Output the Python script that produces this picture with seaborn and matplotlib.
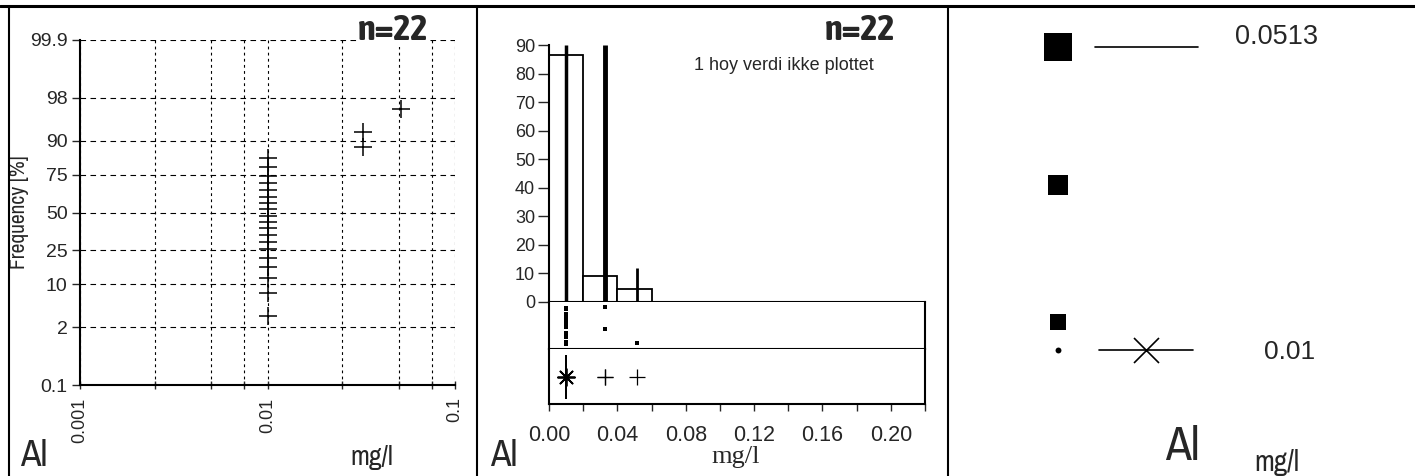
import numpy as np
import seaborn as sns
import matplotlib.pyplot as plt
from matplotlib.lines import Line2D
from statistics import NormalDist

# Al concentrations (mg/l), 22 samples
al_values = [0.01, 0.01, 0.01, 0.01, 0.01, 0.01, 0.01, 0.01, 0.01, 0.01,
             0.01, 0.01, 0.01, 0.01, 0.01, 0.01, 0.01, 0.01, 0.01,
             0.0325, 0.0325, 0.0513]
n_text = 'n=22'
note_text = '1 hoy verdi ikke plottet'

# probability plot axes
prob_ticks = [0.1, 2, 10, 25, 50, 75, 90, 98, 99.9]
prob_labels = ['0.1', '2', '10', '25', '50', '75', '90', '98', '99.9']
log_major = [0.001, 0.01, 0.1]
log_major_labels = ['0.001', '0.01', '0.1']
log_minor = [0.0025, 0.005, 0.0075, 0.025, 0.05, 0.075]

# histogram
hist_bins = [0.0, 0.02, 0.04, 0.06]
spike_x = [0.01, 0.033, 0.0513]
spike_h = [90, 90, 12]
hist_xticks = [0.00, 0.02, 0.04, 0.06, 0.08, 0.10, 0.12, 0.14, 0.16, 0.18, 0.20, 0.22]
hist_xlabels = ['0.00', '', '0.04', '', '0.08', '', '0.12', '', '0.16', '', '0.20', '']
hist_yticks = [0, 10, 20, 30, 40, 50, 60, 70, 80, 90]

# class symbol legend
class_max = '0.0513'
class_min = '0.01'

sns.set_style('white')
plt.rcParams['font.family'] = ['Liberation Sans', 'DejaVu Sans']
NARROW = ['Liberation Sans Narrow', 'Archivo Narrow', 'Asap Condensed', 'Liberation Sans']
NARROW_B = ['Liberation Sans Narrow', 'Asap Condensed', 'Archivo Narrow', 'Liberation Sans']
W, H = 1415, 476


def fig_rect(x0, y0, x1, y1):
    return [x0 / W, 1 - y1 / H, (x1 - x0) / W, (y1 - y0) / H]


nd = NormalDist()
_ppf = np.vectorize(lambda p: nd.inv_cdf(p) if 0 < p < 1 else np.nan, otypes=[float])
_cdf = np.vectorize(nd.cdf, otypes=[float])


def prob_fwd(pct):
    return _ppf(np.clip(np.asarray(pct, float) / 100, 1e-9, 1 - 1e-9))


def prob_inv(z):
    return _cdf(np.asarray(z, float)) * 100


fig = plt.figure(figsize=(W / 100, H / 100), dpi=100)

# ---------------- left: probability plot ----------------
ax = fig.add_axes(fig_rect(80, 40, 455, 385))
vals = np.sort(al_values)
n = len(vals)
pos = (np.arange(1, n + 1) - 0.3) / (n + 0.4) * 100
ax.set_xscale('log')
ax.set_yscale('function', functions=(prob_fwd, prob_inv))
sns.scatterplot(x=vals, y=pos, marker='+', s=150, color='black', linewidth=1.1, ax=ax, zorder=4)
ax.set_xlim(0.001, 0.1)
ax.set_ylim(0.1, 99.9)
ax.set_yticks(prob_ticks)
ax.set_yticklabels(prob_labels, fontsize=14)
ax.set_xticks(log_major)
ax.set_xticklabels(log_major_labels, rotation=90, fontsize=13)
ax.set_xticks(log_minor, minor=True)
ax.xaxis.set_minor_formatter(plt.NullFormatter())
ax.tick_params(axis='y', which='major', direction='out', length=6, width=1, pad=3, left=True)
ax.tick_params(axis='x', which='both', direction='inout', length=6, width=1, pad=6, bottom=True)
ax.grid(True, which='both', axis='x', color='black', linestyle=(0, (2.5, 3)), linewidth=0.8)
ax.grid(True, which='major', axis='y', color='black', linestyle=(0, (5, 4)), linewidth=0.8)
for s in ['top', 'right']:
    ax.spines[s].set_visible(False)
for s in ['left', 'bottom']:
    ax.spines[s].set_color('black')
    ax.spines[s].set_linewidth(1.5)
ax.set_ylabel('Frequency [%]', fontsize=15.5, family=NARROW)
ax.yaxis.set_label_coords(-0.135, 0.5)
ax.set_xlabel('')
fig.text(393 / W, 1 - 40 / H, n_text, ha='center', va='baseline', fontsize=26,
         fontweight='bold', family=NARROW_B,
         bbox=dict(facecolor='white', edgecolor='none', pad=0))
fig.text(20 / W, 1 - 455 / H, 'Al', ha='left', va='center', fontsize=27, family=NARROW)
fig.text(372 / W, 1 - 457 / H, 'mg/l', ha='center', va='center', fontsize=20, family=NARROW)

# ---------------- middle: histogram + strip + box ----------------
hax = fig.add_axes(fig_rect(549, 45, 925, 302))
sns.histplot(x=al_values, bins=hist_bins, stat='percent', color='white', edgecolor='black',
             linewidth=1.3, alpha=1, ax=hax)
hax.vlines(spike_x, 0, spike_h, colors='black', linewidth=[2.5, 3.5, 2.0], zorder=4)
hax.set_xlim(0, 0.22)
hax.set_ylim(0, 90)
hax.set_yticks(hist_yticks)
hax.set_yticklabels([str(t) for t in hist_yticks], fontsize=13)
hax.tick_params(axis='y', direction='out', length=8, width=1, pad=2, left=True)
hax.set_xticks([])
hax.set_xlabel('')
hax.set_ylabel('')
for s in ['top', 'right']:
    hax.spines[s].set_visible(False)
for s in ['left', 'bottom']:
    hax.spines[s].set_color('black')
    hax.spines[s].set_linewidth(1.5)
fig.text(860 / W, 1 - 40 / H, n_text, ha='center', va='baseline', fontsize=26,
         fontweight='bold', family=NARROW_B)
fig.text(784 / W, 1 - 66 / H, note_text, ha='center', va='center', fontsize=13)

sax = fig.add_axes(fig_rect(549, 302, 925, 349))
np.random.seed(7)
sns.stripplot(x=al_values, orient='h', jitter=0.42, color='black', marker='s', size=2.2,
              linewidth=0, ax=sax)
sax.set_xlim(0, 0.22)
sax.set_ylim(0.5, -0.5)
sax.set_xticks([])
sax.set_yticks([])
sax.spines['top'].set_visible(False)
for s in ['left', 'right', 'bottom']:
    sax.spines[s].set_color('black')
    sax.spines[s].set_linewidth(1.5)

bax = fig.add_axes(fig_rect(549, 349, 925, 404))
sns.boxplot(x=al_values, orient='h', width=0.8, color='white', linecolor='black',
            linewidth=1.4, whis=1.5,
            flierprops=dict(marker='+', markersize=11, markeredgecolor='black',
                            markeredgewidth=0.9),
            ax=bax)
bax.scatter([np.median(al_values)], [0], marker=(8, 2, 0), s=150, color='black',
            linewidth=1.3, zorder=5)
bax.set_xlim(0, 0.22)
bax.set_ylim(0.5, -0.5)
bax.set_yticks([])
bax.set_xticks(hist_xticks)
bax.set_xticklabels(hist_xlabels, fontsize=15.5)
bax.tick_params(axis='x', direction='out', length=5, width=1, pad=10, bottom=True)
bax.spines['top'].set_visible(False)
for s in ['left', 'right', 'bottom']:
    bax.spines[s].set_color('black')
    bax.spines[s].set_linewidth(1.5)
fig.text(490 / W, 1 - 455 / H, 'Al', ha='left', va='center', fontsize=27, family=NARROW)
fig.text(736 / W, 1 - 457 / H, 'mg/l', ha='center', va='center', fontsize=19,
         family=['Liberation Serif', 'DejaVu Serif'])

# ---------------- right: class symbol legend ----------------
rax = fig.add_axes(fig_rect(948, 0, W, H))
rax.set_xlim(948, W)
rax.set_ylim(H, 0)
rax.axis('off')
sq_y = [47, 185, 322]
sq_s = [380, 210, 120]
rax.scatter([1058] * 3, sq_y, marker='s', s=sq_s, color='black', linewidth=0)
rax.scatter([1058], [350], marker='o', s=18, color='black', linewidth=0)
rax.plot([1095, 1198], [47, 47], color='black', lw=1.2)
rax.plot([1099, 1193], [350, 350], color='black', lw=1.2)
rax.plot([1146], [350], marker='x', markersize=18, color='black', mew=1.2)
rax.text(1277, 37, class_max, ha='center', va='center', fontsize=19.5)
rax.text(1290, 352, class_min, ha='center', va='center', fontsize=19)
rax.text(1182, 446, 'Al', ha='center', va='center', fontsize=34, family=NARROW)
rax.text(1277, 462, 'mg/l', ha='center', va='center', fontsize=21, family=NARROW)

# panel frame lines
fig.add_artist(Line2D([0, 1], [1 - 6 / H, 1 - 6 / H], color='black', lw=2.2))
for xp in [9, 477, 948]:
    fig.add_artist(Line2D([xp / W, xp / W], [0, 1 - 6 / H], color='black', lw=1.5))

fig.savefig('out.png', dpi=100)
